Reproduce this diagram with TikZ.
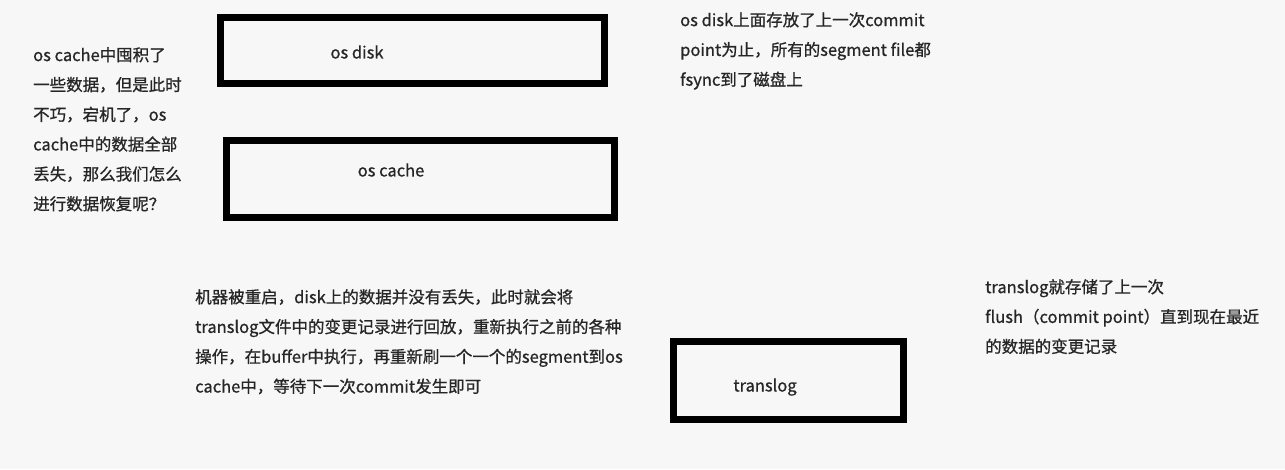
\documentclass[tikz,border=0pt]{standalone}
\usepackage{fontspec}
\newfontfamily\cjk[BoldFont=Noto Sans CJK SC,BoldFeatures={FakeBold=0.8}]{Noto Sans CJK SC}

\begin{document}
\begin{tikzpicture}[x=1pt,y=-1pt,
		box/.style={draw=black,line width=7pt,inner sep=0pt},
		boxlabel/.style={font=\cjk\bfseries\fontsize{16.5}{18}\selectfont,text=black!85,inner sep=0pt},
		note/.style={font=\cjk\bfseries\fontsize{16.5}{29.8}\selectfont,align=left,anchor=north west,inner sep=0pt,text=black!85}]
	\useasboundingbox (0,0) rectangle (1285,469);
	\fill[black!3] (0,0) rectangle (1285,469);
	\node[box,minimum width=384pt,minimum height=66pt] (disk) at (412,50) {};
	\node[box,minimum width=388pt,minimum height=77pt] (cache) at (420,179) {};
	\node[box,minimum width=230pt,minimum height=78pt] (translog) at (788.5,380.5) {};
	\node[boxlabel] (disklabel) at (357,52) {os disk};
	\node[boxlabel] (cachelabel) at (391,170) {os cache};
	\node[boxlabel] (transloglabel) at (765,387) {translog};
	\node[note] (crash) at (33,47) {os cache中囤积了\\一些数据，但是此时\\不巧，宕机了，os\\cache中的数据全部\\丢失，那么我们怎么\\进行数据恢复呢？};
	\node[note] (disknote) at (680,12) {os disk上面存放了上一次commit\\point为止，所有的segment file都\\fsync到了磁盘上};
	\node[note] (restart) at (195,289) {机器被重启，disk上的数据并没有丢失，此时就会将\\translog文件中的变更记录进行回放，重新执行之前的各种\\操作，在buffer中执行，再重新刷一个一个的segment到os\\cache中，等待下一次commit发生即可};
	\node[note] (translognote) at (985,279) {translog就存储了上一次\\flush（commit point）直到现在最近\\的数据的变更记录};
\end{tikzpicture}
\end{document}
